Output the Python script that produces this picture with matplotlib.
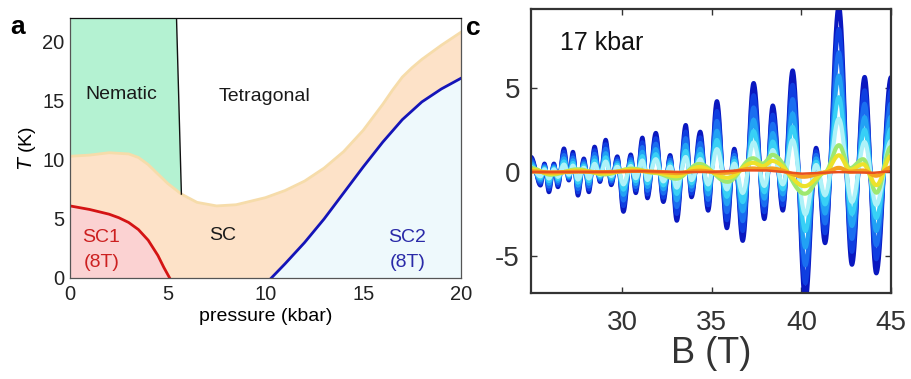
import numpy as np
import matplotlib
matplotlib.use("Agg")
import matplotlib.pyplot as plt

plt.rcParams['font.family'] = ['Liberation Sans', 'DejaVu Sans']

# ---- panel a: phase diagram (pressure in kbar, T in K) ----
sc_top_p = [0, 1, 2, 3, 3.5, 4, 4.5, 5, 5.7, 6.5, 7.5, 8.5, 10, 11, 12, 13, 14, 15, 16, 16.5, 17, 17.5, 18, 19, 20]
sc_top_T = [10.3, 10.4, 10.6, 10.5, 10.2, 9.6, 8.8, 8.0, 7.1, 6.4, 6.1, 6.2, 6.8, 7.4, 8.2, 9.3, 10.7, 12.5, 14.7, 15.9, 17.0, 17.8, 18.5, 19.7, 20.8]

sc1_p = [0, 1, 2, 2.5, 3, 3.5, 4, 4.5, 4.8, 5.1]
sc1_T = [6.1, 5.8, 5.4, 5.1, 4.7, 4.1, 3.2, 1.9, 0.9, 0.0]

sc2_p = [10.3, 11, 12, 13, 14, 15, 16, 17, 18, 19, 20]
sc2_T = [0.0, 1.2, 3.0, 5.0, 7.2, 9.4, 11.5, 13.4, 14.9, 16.0, 16.9]

nem_line_p = [5.45, 5.7]
nem_line_T = [22.0, 7.1]

# ---- panel c: quantum oscillations at 17 kbar ----
fast_B = [24.9, 25.43, 25.65, 25.90, 26.18, 26.40, 26.74, 27.01, 27.24, 27.52, 27.85, 28.13,
          28.45, 28.75, 29.07, 29.38, 29.72, 30.06, 30.47, 30.75, 31.12, 31.40, 31.87, 32.29,
          32.67, 33.04, 33.54, 33.86, 34.35, 34.79, 35.28, 35.84, 36.25, 36.72, 37.33, 37.93,
          38.40, 38.96, 39.51, 40.22, 40.82, 41.32, 42.09, 42.82, 43.53, 44.18, 45.0]
fast_val = [0.9, -0.8, 0.5, -1.2, 0.5, -0.9, 1.4, -0.5, 1.2, -1.4, 0.8, -1.2,
            1.5, -0.6, 1.9, -0.8, 0.9, -2.4, 1.0, -1.3, 2.0, -1.6, 2.3, -1.8,
            1.0, -2.9, 2.8, -1.5, 2.4, -2.3, 4.2, -3.4, 1.3, -4.2, 5.2, -2.9,
            3.9, -2.3, 6.1, -7.6, 1.5, -4.2, 9.9, -5.5, 5.7, -6.0, 5.6]

slow_B = [24.9, 26.0, 27.5, 29.0, 30.5, 31.8, 33.0, 34.3, 35.9, 37.3, 37.85, 38.4, 40.2,
          41.3, 42.1, 42.7, 43.45, 44.2, 45.0]
slow_val = [0.15, -0.1, 0.1, -0.1, 0.1, -0.05, -0.25, 0.3, -0.4, 0.45, 0.25, 0.6, -0.75,
            0.0, 1.0, 0.15, 0.5, -0.75, 0.9]

drift_B = [24.9, 28, 31, 33, 35, 36.5, 38, 40, 42, 44, 45]
drift_val = [0.0, 0.0, 0.05, 0.0, 0.0, 0.1, 0.1, -0.1, 0.0, -0.05, 0.05]

# weights of fast / slow parts and colour per temperature, coldest first
curve_w_fast = [1.0, 0.86, 0.72, 0.58, 0.45, 0.32, 0.0, 0.0, 0.0]
curve_w_slow = [0.0, 0.0, 0.0, 0.0, 0.0, 0.0, 1.6, 1.0, 0.25]
curve_colors = ['#0a18c0', '#0f3ee0', '#1a6ef0', '#22a2f4', '#38d0f6', '#aef2f8',
                '#9ee870', '#ece22a', '#f5a020']


def smooth_extrema(bx, by, grid):
    # join successive extrema with half-cosine arcs
    bx = np.asarray(bx)
    by = np.asarray(by)
    k = np.clip(np.searchsorted(bx, grid) - 1, 0, len(bx) - 2)
    t = (grid - bx[k]) / (bx[k + 1] - bx[k])
    return by[k] + (by[k + 1] - by[k]) * (1 - np.cos(np.pi * t)) / 2


fig = plt.figure(figsize=(9.11, 3.79), dpi=100)

# ------------------ panel a ------------------
ax1 = fig.add_axes([0.0768, 0.2665, 0.4292, 0.686])
ax1.fill_between(sc_top_p, 0, sc_top_T, color='#fde2c8', lw=0)
ax1.plot(sc_top_p, sc_top_T, color='#f6dcaa', lw=2)
nem_T = [sc_top_T[i] for i, p in enumerate(sc_top_p) if p <= 5.7]
poly_p = [0, nem_line_p[0], nem_line_p[1]] + [p for p in sc_top_p if p <= 5.7][::-1]
poly_T = [22, nem_line_T[0], nem_line_T[1]] + nem_T[::-1]
ax1.fill(poly_p, poly_T, color='#b4f2d2', lw=0)
ax1.fill_between(sc1_p, 0, sc1_T, color='#fbd2d2', lw=0)
ax1.fill_between(sc2_p + [20], 0, sc2_T + [0], color='#eef9fc', lw=0)
ax1.fill_between(sc2_p, 0, sc2_T, color='#eef9fc', lw=0)
ax1.plot(sc1_p, sc1_T, color='#d41414', lw=2)
ax1.plot(sc2_p, sc2_T, color='#1414b8', lw=2)
ax1.plot(nem_line_p, nem_line_T, color='#111111', lw=1)

ax1.set_xlim(0, 20)
ax1.set_ylim(0, 22)
ax1.set_xticks([0, 5, 10, 15, 20])
ax1.set_yticks([0, 5, 10, 15, 20])
ax1.tick_params(length=0, labelsize=14.5, colors='#222222')
ax1.tick_params(axis='x', pad=5)
ax1.tick_params(axis='y', pad=4)
for s in ax1.spines.values():
    s.set_color('#555555')
    s.set_linewidth(0.9)
ax1.spines['top'].set_color('#111111')
ax1.set_xlabel('pressure (kbar)', fontsize=14, labelpad=3)
ax1.set_ylabel('$T$ (K)', fontsize=14, labelpad=3)

txt = dict(fontsize=14, ha='center', va='center')
ax1.text(2.64, 15.5, 'Nematic', color='#1a1a1a', **txt)
ax1.text(9.97, 15.4, 'Tetragonal', color='#1a1a1a', **txt)
ax1.text(7.8, 3.6, 'SC', color='#1a1a1a', **txt)
ax1.text(1.6, 3.4, 'SC1', color='#cc2020', **txt)
ax1.text(1.6, 1.3, '(8T)', color='#cc2020', **txt)
ax1.text(17.25, 3.4, 'SC2', color='#2a2aa8', **txt)
ax1.text(17.25, 1.3, '(8T)', color='#2a2aa8', **txt)

fig.text(0.019, 0.928, 'a', fontsize=19, fontweight='bold', ha='center', va='center')
fig.text(0.520, 0.925, 'c', fontsize=19, fontweight='bold', ha='center', va='center')

# ------------------ panel c ------------------
ax2 = fig.add_axes([0.5829, 0.227, 0.3951, 0.749])
grid = np.linspace(fast_B[0], fast_B[-1], 3000)
fast = smooth_extrema(fast_B, fast_val, grid)
slow = smooth_extrema(slow_B, slow_val, grid)
drift = np.interp(grid, drift_B, drift_val)
for wf, ws, c in zip(curve_w_fast, curve_w_slow, curve_colors):
    ax2.plot(grid, wf * fast + ws * slow + drift, color=c, lw=3.0, solid_capstyle='round')
ax2.plot(grid, drift, color='#e8501e', lw=1.8)

ax2.set_xlim(24.9, 45.0)
ax2.set_ylim(-7.2, 9.7)
ax2.set_xticks([30, 35, 40, 45])
ax2.set_yticks([-5, 0, 5])
ax2.set_yticklabels(['-5', '0', '5'])
ax2.tick_params(direction='in', length=4, width=1, top=True, right=True,
                labelsize=20, colors='#333333', labelcolor='#333333')
ax2.tick_params(axis='x', pad=12)
ax2.tick_params(axis='y', pad=8)
for s in ax2.spines.values():
    s.set_color('#333333')
    s.set_linewidth(1.6)
ax2.set_xlabel('B (T)', fontsize=26, color='#333333', labelpad=0)
ax2.text(0.08, 0.88, '17 kbar', transform=ax2.transAxes, fontsize=18, va='center', color='#111111')

fig.savefig('out.png', dpi=100)
